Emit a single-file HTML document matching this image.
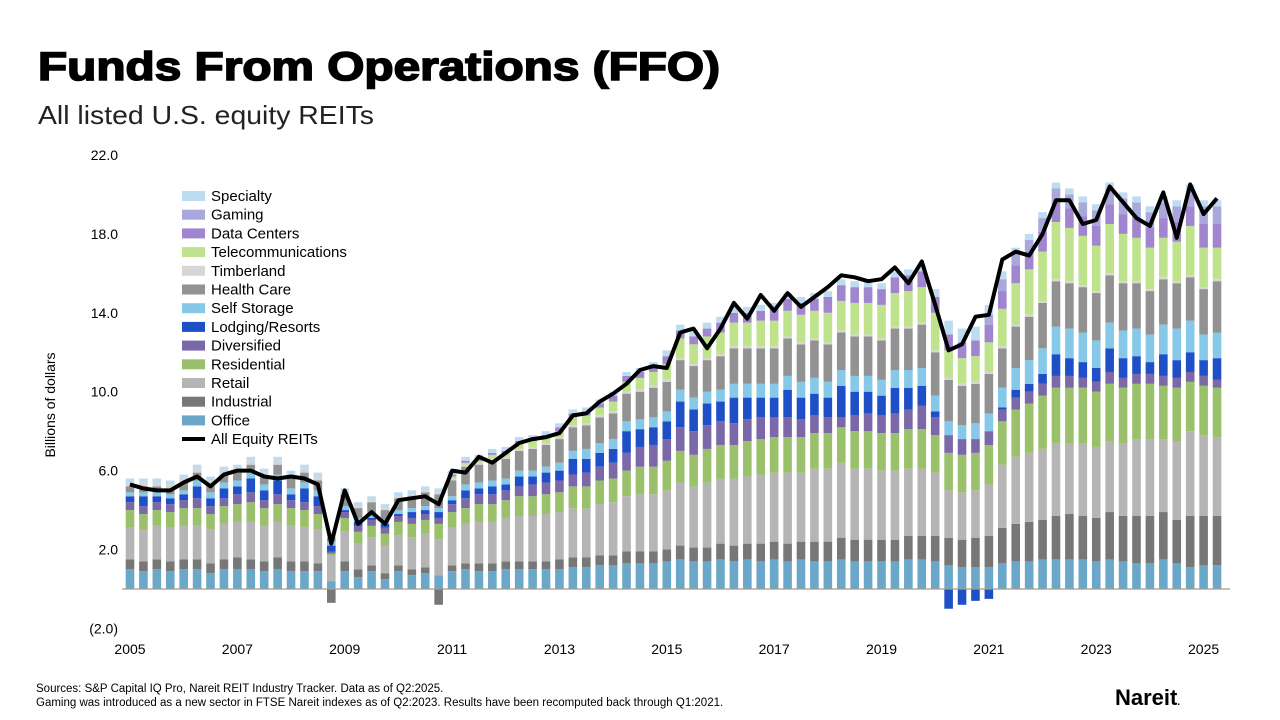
<!DOCTYPE html>
<html><head><meta charset="utf-8"><style>
body{margin:0;background:#fff;font-family:"Liberation Sans",Arial,sans-serif}
#wrap{position:relative;width:1280px;height:720px;overflow:hidden}
</style></head><body>
<div id="wrap">
<svg id="svg" width="1280" height="720" xmlns="http://www.w3.org/2000/svg">
<text x="38" y="80" font-size="40" font-weight="bold" fill="#000" stroke="#000" stroke-width="1.6" textLength="682" lengthAdjust="spacingAndGlyphs">Funds From Operations (FFO)</text>
<text x="38" y="124" font-size="26" fill="#222" textLength="336" lengthAdjust="spacingAndGlyphs">All listed U.S. equity REITs</text>
<text transform="translate(55,405) rotate(-90)" text-anchor="middle" font-size="14" fill="#000">Billions of dollars</text>
<g id="yt"></g><g id="bars"></g><g id="xt"></g><g id="leg"></g>
<text x="36" y="692" font-size="11.5" fill="#000">Sources: S&amp;P Capital IQ Pro, Nareit REIT Industry Tracker. Data as of Q2:2025.</text>
<text x="36" y="706" font-size="11.5" fill="#000">Gaming was introduced as a new sector in FTSE Nareit indexes as of Q2:2023. Results have been recomputed back through Q1:2021.</text>
<text x="1115" y="705" font-size="22" font-weight="bold" fill="#000">Nareit<tspan font-size="10">.</tspan></text>
</svg></div>
<script>
const sectorNames=["Office","Industrial","Retail","Residential","Diversified","Lodging/Resorts","Self Storage","Health Care","Timberland","Telecommunications","Data Centers","Gaming","Specialty"];
const office=[1.0,0.9,1.0,0.9,1.0,1.0,0.8,1.0,1.0,1.0,0.9,1.0,0.9,0.9,0.9,0.4,0.9,0.6,0.9,0.5,0.9,0.7,0.8,0.7,0.9,1.0,0.9,0.9,1.0,1.0,1.0,1.0,1.0,1.1,1.1,1.2,1.2,1.3,1.3,1.3,1.4,1.5,1.4,1.4,1.5,1.4,1.5,1.4,1.5,1.4,1.5,1.4,1.4,1.5,1.4,1.4,1.4,1.4,1.5,1.5,1.4,1.2,1.1,1.1,1.1,1.3,1.4,1.4,1.5,1.5,1.5,1.5,1.4,1.5,1.4,1.3,1.3,1.5,1.3,1.1,1.2,1.2];
const industrial=[0.5,0.5,0.5,0.5,0.5,0.5,0.5,0.5,0.6,0.5,0.5,0.6,0.5,0.5,0.4,-0.7,0.5,0.4,0.3,0.3,0.3,0.3,0.3,-0.8,0.3,0.3,0.4,0.4,0.4,0.4,0.4,0.4,0.5,0.5,0.5,0.5,0.5,0.6,0.6,0.6,0.6,0.7,0.7,0.7,0.8,0.8,0.8,0.9,0.9,0.9,0.9,1.0,1.0,1.1,1.1,1.1,1.1,1.1,1.2,1.2,1.3,1.4,1.4,1.5,1.6,1.8,1.9,2.0,2.0,2.2,2.3,2.2,2.2,2.4,2.3,2.4,2.4,2.4,2.2,2.6,2.5,2.5];
const retail=[1.6,1.6,1.7,1.7,1.7,1.7,1.7,1.8,1.8,1.9,1.8,1.8,1.8,1.7,1.7,1.3,1.5,1.3,1.4,1.4,1.5,1.6,1.7,1.8,1.9,2.0,2.1,2.1,2.2,2.3,2.3,2.4,2.4,2.5,2.5,2.6,2.7,2.8,2.9,2.9,3.0,3.2,3.1,3.3,3.3,3.4,3.4,3.5,3.5,3.6,3.5,3.7,3.7,3.8,3.6,3.6,3.5,3.5,3.4,3.4,3.2,2.4,2.4,2.4,2.6,3.2,3.4,3.5,3.6,3.7,3.6,3.7,3.6,3.6,3.7,3.9,3.9,3.7,4.0,4.3,4.1,4.0];
const residential=[0.9,0.8,0.8,0.8,0.9,0.9,0.8,0.9,0.9,1.0,0.9,0.9,0.9,0.9,0.8,0.1,0.7,0.6,0.6,0.6,0.7,0.7,0.7,0.8,0.8,0.8,0.9,0.9,0.9,1.0,1.0,1.0,1.0,1.1,1.1,1.2,1.2,1.3,1.4,1.4,1.5,1.6,1.6,1.7,1.7,1.7,1.8,1.8,1.8,1.8,1.8,1.8,1.8,1.8,1.9,1.9,1.9,1.9,2.0,2.0,1.9,1.9,1.9,1.9,2.0,2.2,2.4,2.5,2.7,2.8,2.8,2.8,2.8,2.9,2.8,2.8,2.8,2.7,2.7,2.5,2.5,2.5];
const diversified=[0.4,0.4,0.4,0.4,0.4,0.5,0.4,0.4,0.5,0.5,0.4,0.5,0.4,0.4,0.4,0.1,0.3,0.3,0.3,0.3,0.3,0.3,0.3,0.3,0.4,0.5,0.5,0.5,0.5,0.5,0.6,0.6,0.6,0.6,0.7,0.7,0.8,0.9,1.0,1.1,1.1,1.2,1.2,1.2,1.2,1.1,1.1,1.1,1.0,1.0,0.9,0.9,0.8,0.5,0.8,0.9,0.9,1.0,1.0,1.2,0.9,0.9,0.8,0.7,0.7,0.6,0.6,0.6,0.6,0.6,0.6,0.5,0.5,0.6,0.5,0.5,0.5,0.5,0.5,0.5,0.5,0.4];
const lodging=[0.3,0.5,0.3,0.3,0.3,0.6,0.4,0.5,0.4,0.7,0.5,0.7,0.3,0.7,0.5,0.3,0.1,0.2,0.1,0.2,0.1,0.3,0.2,0.3,0.2,0.4,0.3,0.4,0.3,0.5,0.4,0.5,0.5,0.8,0.7,0.7,0.7,1.1,0.9,0.9,0.9,1.3,1.1,1.1,1.0,1.3,1.1,1.0,1.0,1.4,1.1,1.1,1.0,1.6,1.2,1.1,1.0,1.3,1.1,1.0,0.3,-1.0,-0.8,-0.6,-0.5,0.1,0.4,0.4,0.5,1.1,0.9,0.8,0.7,1.2,1.0,0.9,0.6,1.1,0.9,1.0,0.8,1.1];
const selfStorage=[0.2,0.2,0.2,0.2,0.2,0.3,0.3,0.3,0.3,0.3,0.3,0.3,0.3,0.3,0.3,0.2,0.2,0.2,0.2,0.2,0.2,0.2,0.2,0.2,0.2,0.3,0.3,0.3,0.3,0.3,0.3,0.3,0.4,0.4,0.5,0.5,0.5,0.5,0.5,0.5,0.5,0.6,0.6,0.6,0.6,0.7,0.7,0.7,0.7,0.7,0.8,0.8,0.8,0.8,0.8,0.8,0.8,0.9,0.9,0.9,0.8,0.7,0.7,0.8,0.9,1.0,1.1,1.2,1.3,1.4,1.5,1.5,1.4,1.3,1.4,1.4,1.4,1.5,1.6,1.6,1.3,1.3];
const healthCare=[0.3,0.3,0.3,0.3,0.4,0.4,0.4,0.4,0.4,0.4,0.4,0.5,0.5,0.5,0.5,0.2,0.6,0.5,0.6,0.5,0.6,0.6,0.7,0.7,0.8,0.9,0.9,1.0,1.0,1.0,1.1,1.1,1.2,1.2,1.2,1.3,1.3,1.4,1.4,1.5,1.5,1.5,1.6,1.6,1.7,1.8,1.8,1.8,1.8,1.9,1.9,1.9,1.9,1.9,2.0,2.0,2.0,2.1,2.1,2.2,2.2,2.1,2.0,2.0,2.0,2.0,2.1,2.2,2.3,2.3,2.3,2.3,2.4,2.4,2.4,2.3,2.2,2.3,2.3,2.2,2.3,2.6];
const timberland=[0.2,0.2,0.2,0.2,0.2,0.2,0.2,0.2,0.2,0.2,0.2,0.2,0.2,0.2,0.2,0.1,0.1,0.1,0.1,0.1,0.1,0.1,0.1,0.1,0.1,0.1,0.1,0.1,0.1,0.1,0.1,0.1,0.1,0.1,0.1,0.1,0.1,0.1,0.1,0.1,0.1,0.1,0.1,0.1,0.1,0.1,0.1,0.1,0.1,0.1,0.1,0.1,0.1,0.1,0.1,0.1,0.1,0.1,0.1,0.1,0.1,0.1,0.1,0.1,0.1,0.1,0.1,0.1,0.1,0.1,0.1,0.1,0.1,0.1,0.1,0.1,0.1,0.1,0.1,0.1,0.1,0.1];
const telecom=[0,0,0,0,0,0,0,0,0,0,0,0,0,0,0,0,0,0,0,0,0,0,0,0,0.1,0.1,0.1,0.2,0.2,0.3,0.3,0.3,0.3,0.4,0.4,0.4,0.5,0.5,0.6,0.7,0.8,1.0,1.0,1.1,1.1,1.2,1.2,1.3,1.3,1.3,1.4,1.4,1.5,1.5,1.6,1.6,1.7,1.7,1.8,1.8,1.9,1.4,1.3,1.3,1.5,1.9,2.1,2.3,2.5,2.9,2.7,2.5,2.3,2.5,2.4,2.2,2.1,2.0,2.0,2.5,2.0,1.6];
const dataCenters=[0,0,0,0,0,0,0,0,0,0,0,0,0,0,0,0,0,0,0,0,0,0,0,0,0.1,0.1,0.1,0.1,0.1,0.1,0.1,0.1,0.2,0.2,0.2,0.2,0.3,0.3,0.3,0.3,0.4,0.4,0.4,0.4,0.5,0.5,0.5,0.5,0.6,0.6,0.6,0.6,0.8,0.8,0.8,0.8,0.8,0.8,0.8,0.8,0.8,0.8,0.8,0.8,0.9,0.9,0.9,0.9,1.0,1.0,1.0,1.0,1.0,1.0,1.0,1.0,1.0,1.0,1.0,1.0,1.2,1.2];
const gaming=[0,0,0,0,0,0,0,0,0,0,0,0,0,0,0,0,0,0,0,0,0,0,0,0,0,0,0,0,0,0,0,0,0,0,0,0,0,0,0,0,0,0,0,0,0,0,0,0,0,0,0,0,0,0,0,0,0,0,0,0,0,0,0,0,0.5,0.6,0.6,0.6,0.7,0.7,0.7,0.7,0.8,0.8,0.8,0.8,0.8,0.8,0.8,0.8,0.9,0.9];
const specialty=[0.2,0.2,0.2,0.2,0.2,0.2,0.2,0.2,0.2,0.2,0.2,0.2,0.2,0.2,0.2,0.2,0.2,0.2,0.2,0.2,0.2,0.2,0.2,0.2,0.2,0.2,0.2,0.2,0.2,0.2,0.2,0.2,0.2,0.2,0.2,0.2,0.2,0.2,0.2,0.2,0.3,0.3,0.3,0.3,0.3,0.3,0.3,0.3,0.3,0.3,0.3,0.3,0.3,0.3,0.3,0.3,0.3,0.3,0.3,0.3,0.4,0.7,0.7,0.7,0.5,0.4,0.3,0.3,0.3,0.3,0.3,0.3,0.3,0.3,0.3,0.3,0.3,0.3,0.3,0.3,0.3,0.3];
const allEquity=[5.3,5.1,5.0,5.0,5.4,5.7,5.2,5.8,6.0,6.0,5.7,5.6,5.7,5.6,5.3,2.3,5.0,3.3,3.9,3.3,4.5,4.6,4.7,4.3,6.0,5.9,6.7,6.4,6.9,7.4,7.6,7.7,7.9,8.8,8.9,9.5,9.9,10.4,11.1,11.3,11.2,13.0,13.2,12.2,13.2,14.5,13.7,14.9,14.1,15.0,14.3,14.8,15.3,15.9,15.8,15.6,15.7,16.3,15.5,16.6,14.4,12.1,12.4,13.8,13.9,16.7,17.1,16.9,18.0,19.7,19.7,18.5,18.7,20.4,19.6,18.8,18.4,20.1,17.8,20.5,19.0,19.8];
const yTicks=[22,18,14,10,6,2,-2];
const yTickLabels=["22.0","18.0","14.0","10.0","6.0","2.0","(2.0)"];
const xYears=[2005,2007,2009,2011,2013,2015,2017,2019,2021,2023,2025];
const series=[office,industrial,retail,residential,diversified,lodging,selfStorage,healthCare,timberland,telecom,dataCenters,gaming,specialty];
const colors=["#6aa7c8","#777777","#b5b5b5","#9bc06c","#7a68a8","#1f4fc6","#86c8e8","#929292","#d6d6d6","#bfe38c","#a086cf","#a8a8da","#bedcf1"];
const NS="http://www.w3.org/2000/svg";
function y(v){return 589-v*19.73;}
function x(i){return 130+i*13.42;}
function mk(t,a,p){const e=document.createElementNS(NS,t);for(const k in a)e.setAttribute(k,a[k]);p.appendChild(e);return e;}
const yt=document.getElementById('yt');
yTicks.forEach((v,k)=>{const t=mk('text',{x:118,y:y(v)+5,'text-anchor':'end','font-size':14,fill:'#000'},yt);t.textContent=yTickLabels[k];

});
const xt=document.getElementById('xt');
xYears.forEach(yr=>{const i=(yr-2005)*4;const t=mk('text',{x:x(i),y:654,'text-anchor':'middle','font-size':14,fill:'#000'},xt);t.textContent=yr;

});
const bars=document.getElementById('bars');
const n=allEquity.length;
for(let i=0;i<n;i++){let pos=0,neg=0;
series.forEach((s,k)=>{const v=s[i];if(!v)return;let y0,y1;
if(v>0){y0=pos;y1=pos+v;pos=y1;}else{y0=neg+v;y1=neg;neg=y0;}
const r=mk('rect',{x:x(i)-4.3,y:y(y1),width:8.6,height:Math.max(0,y(y0)-y(y1)),fill:colors[k]},bars);

});}
const ax=mk('line',{x1:122,x2:1230,y1:589,y2:589,stroke:'#a89a8c','stroke-width':1.2},bars);


let d='';allEquity.forEach((v,i)=>{d+=(i?'L':'M')+x(i).toFixed(1)+','+y(v).toFixed(1);});
const ln=mk('path',{d:d,fill:'none',stroke:'#000','stroke-width':4,'stroke-linejoin':'round'},bars);


const leg=document.getElementById('leg');
const legNames=sectorNames.slice().reverse(),legCols=colors.slice().reverse();
legNames.forEach((nm,k)=>{const yy=196+k*18.7;
const g=mk('g',{},leg);


mk('rect',{x:182,y:yy-5,width:23,height:10,fill:legCols[k]},g);
const t=mk('text',{x:211,y:yy+5,'font-size':15,fill:'#000'},g);t.textContent=nm;});
const g=mk('g',{},leg);


mk('line',{x1:182,x2:205,y1:439,y2:439,stroke:'#000','stroke-width':4},g);
const t=mk('text',{x:211,y:444,'font-size':15,fill:'#000'},g);t.textContent='All Equity REITs';
</script>
</body></html>
